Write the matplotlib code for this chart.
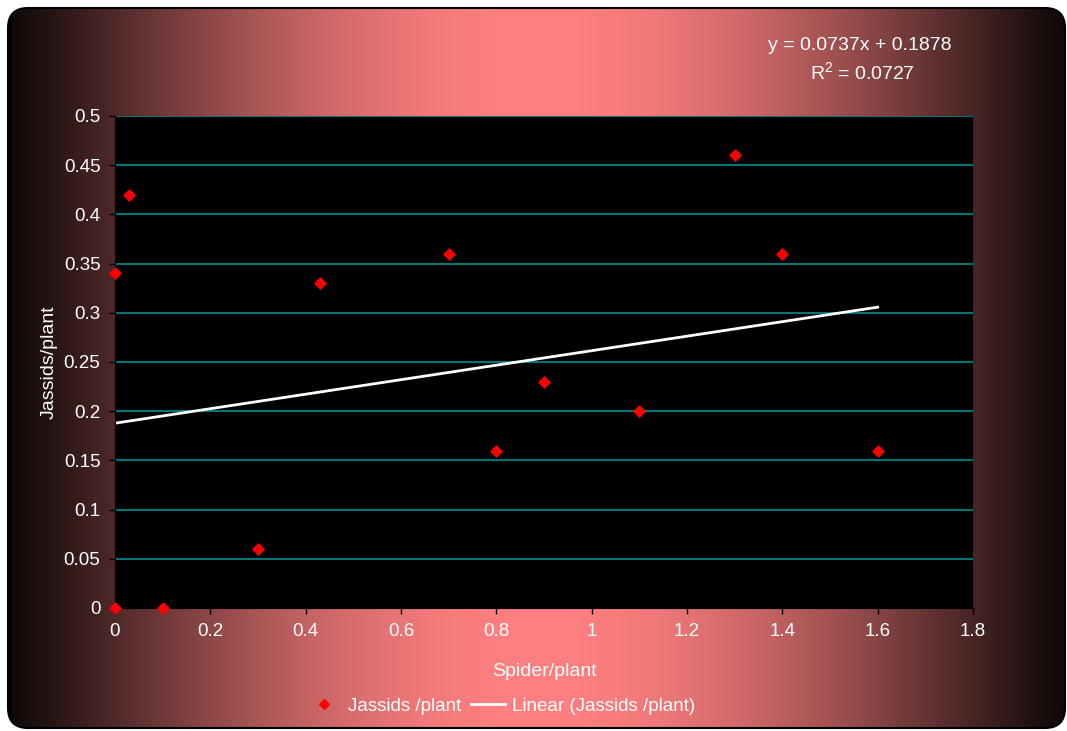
import numpy as np
import matplotlib.pyplot as plt
from matplotlib.patches import FancyBboxPatch, Rectangle
from matplotlib.lines import Line2D

plt.rcParams['font.family'] = ['Liberation Sans', 'DejaVu Sans']
plt.rcParams['mathtext.default'] = 'regular'

# spider and jassid counts per plant
spiders = [0, 0.1, 0, 0.03, 0.3, 0.43, 0.7, 0.8, 0.9, 1.1, 1.3, 1.4, 1.6]
jassids = [0, 0, 0.34, 0.42, 0.06, 0.33, 0.36, 0.16, 0.23, 0.2, 0.46, 0.36, 0.16]

slope = 0.0737
intercept = 0.1878
r_squared = 0.0727

W, H = 1067, 731
FS = 14
fig = plt.figure(figsize=(W / 100, H / 100), dpi=100)
fig.patch.set_facecolor('white')

# chart area: rounded box filled with a dark-pink-dark horizontal gradient
bg = fig.add_axes([0, 0, 1, 1])
bg.set_xlim(0, W)
bg.set_ylim(0, H)
bg.axis('off')

xs = np.arange(W)
cx = 537.0
u = np.clip(np.abs(xs - cx) / (W - 8 - cx), 0, 1)
t = np.cos(u * np.pi / 2) ** 1.1
dark = np.array([18, 10, 10]) / 255
pink = np.array([255, 128, 128]) / 255
row = dark + (pink - dark) * t[:, None]
grad = np.repeat(row[None, :, :], 2, axis=0)

box = FancyBboxPatch((8, 3), W - 2 - 8, H - 8 - 3,
                     boxstyle='round,pad=0,rounding_size=20',
                     facecolor='none', edgecolor='black', linewidth=1.5,
                     zorder=3)
bg.add_patch(box)
img = bg.imshow(grad, extent=[0, W, 0, H], aspect='auto', zorder=1)
img.set_clip_path(box)
strip = Rectangle((8, 0), 4, H, facecolor='black', edgecolor='none', zorder=2)
bg.add_patch(strip)
strip.set_clip_path(box)

# plot area
ax = fig.add_axes([115 / W, (H - 608) / H, 858 / W, 492 / H])
ax.set_facecolor('black')
ax.scatter(spiders, jassids, marker='D', s=32, color='red', zorder=3,
           clip_on=False, label='Jassids /plant')
fit_x = np.array([0, max(spiders)])
ax.plot(fit_x, slope * fit_x + intercept, color='white', linewidth=2,
        zorder=2, label='Linear (Jassids /plant)')

ax.set_xlim(0, 1.8)
ax.set_ylim(0, 0.5)
ax.set_xticks(np.arange(0, 1.81, 0.2))
ax.set_xticklabels(['0', '0.2', '0.4', '0.6', '0.8', '1', '1.2', '1.4', '1.6', '1.8'])
ax.set_yticks(np.arange(0, 0.501, 0.05))
ax.set_yticklabels(['0', '0.05', '0.1', '0.15', '0.2', '0.25', '0.3', '0.35',
                    '0.4', '0.45', '0.5'])
for yv in np.arange(0.05, 0.501, 0.05):
    ax.axhline(yv, color='#007474', linewidth=1.5, zorder=1)

ax.tick_params(direction='out', length=4.5, width=1, color='black',
               labelcolor='white', labelsize=13.5, pad=6)
for side in ['top', 'right']:
    ax.spines[side].set_visible(False)
for side in ['left', 'bottom']:
    ax.spines[side].set_color('black')

ax.set_xlabel('Spider/plant', color='white', fontsize=FS, labelpad=17)
ax.set_ylabel('Jassids/plant', color='white', fontsize=FS, labelpad=4)

fig.text(860 / W, 1 - 46 / H, f'y = {slope}x + {intercept}', color='white',
         fontsize=FS, ha='center', va='center')
fig.text(862 / W, 1 - 72 / H, f'R$^{{2}}$ = {r_squared}', color='white',
         fontsize=FS, ha='center', va='center')

handles = [Line2D([], [], marker='D', linestyle='none', color='red',
                  markersize=5.5),
           Line2D([], [], color='white', linewidth=2)]
leg = fig.legend(handles, ['Jassids /plant', 'Linear (Jassids /plant)'],
                 loc='center', bbox_to_anchor=(501 / W, 1 - 706 / H), ncol=2,
                 frameon=False, fontsize=13.5, handlelength=1.8,
                 handletextpad=0.4, columnspacing=0.5)
for txt in leg.get_texts():
    txt.set_color('white')

fig.savefig('out.png', dpi=100)
